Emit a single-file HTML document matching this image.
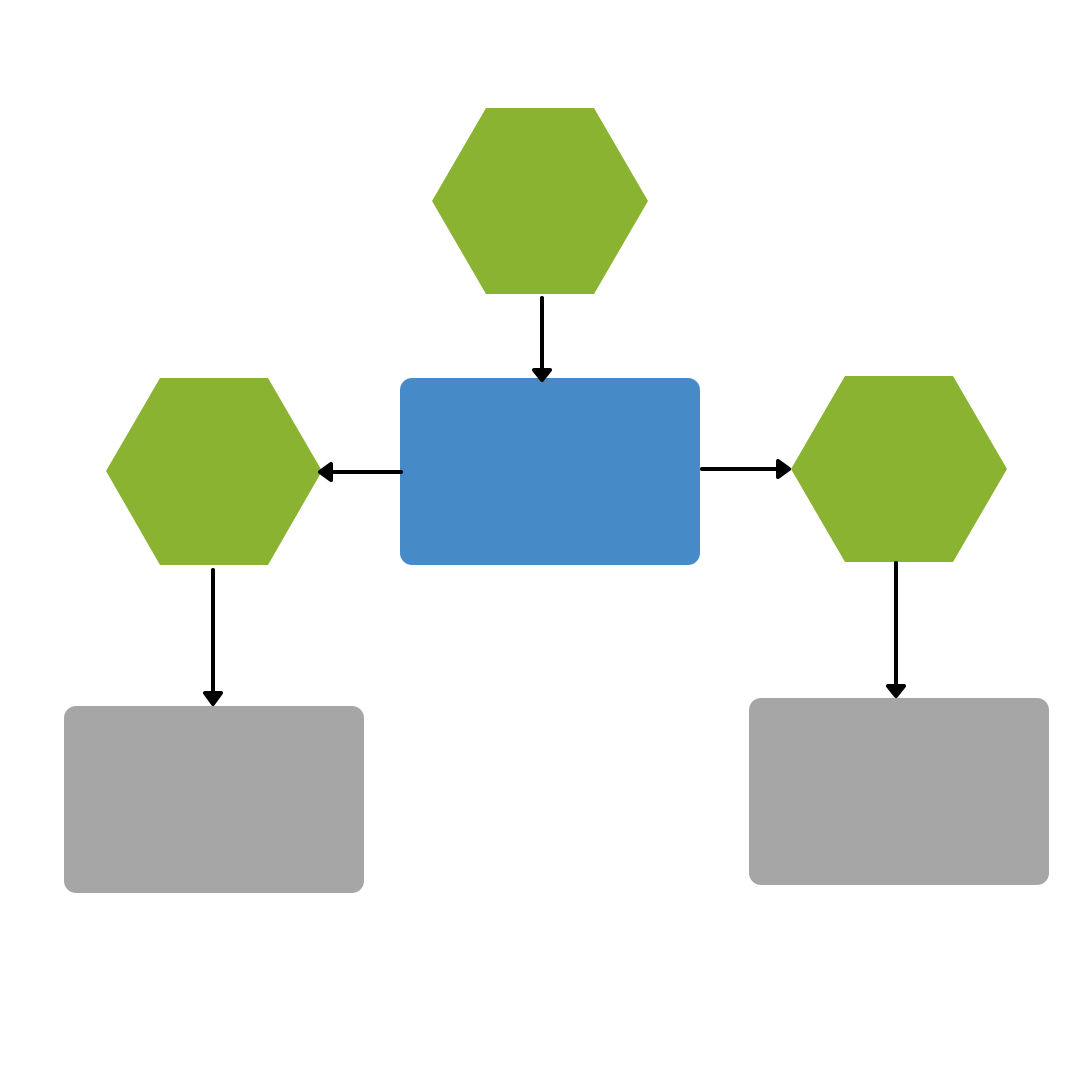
<!DOCTYPE html>
<html><head><meta charset="utf-8"><style>html,body{margin:0;padding:0;background:#fff}svg{display:block}</style></head>
<body>
<svg width="1080" height="1080" viewBox="0 0 1080 1080" xmlns="http://www.w3.org/2000/svg">
<rect width="1080" height="1080" fill="#fff"/>
<polygon points="486,108 594,108 648,201 594,294 486,294 432,201" fill="#8AB332"/>
<polygon points="160,378 268,378 322,471 268,565 160,565 106,471" fill="#8AB332"/>
<polygon points="845,376 953,376 1007,469 953,562 845,562 791,469" fill="#8AB332"/>
<rect x="400" y="378" width="300" height="187" rx="12" fill="#468BC8"/>
<rect x="64" y="706" width="300" height="187" rx="12" fill="#A6A6A6"/>
<rect x="749" y="698" width="300" height="187" rx="12" fill="#A6A6A6"/>
<g stroke="#000" stroke-width="4" stroke-linecap="round" stroke-linejoin="round" fill="#000">
<line x1="542" y1="298" x2="542" y2="376"/>
<polygon points="534,370 550,370 542,380"/>
<line x1="401" y1="472" x2="324" y2="472"/>
<polygon points="331,464 331,480 320,472"/>
<line x1="702" y1="469" x2="784" y2="469"/>
<polygon points="778,461 778,477 789,469"/>
<line x1="213" y1="570" x2="213" y2="700"/>
<polygon points="205,693 221,693 213,704"/>
<line x1="896" y1="563" x2="896" y2="692"/>
<polygon points="888,686 904,686 896,696"/>
</g>
</svg>
</body></html>
